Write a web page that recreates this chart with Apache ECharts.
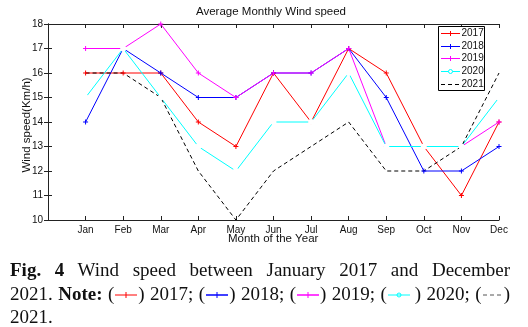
<!DOCTYPE html>
<html>
<head>
<meta charset="utf-8">
<script src="https://cdn.jsdelivr.net/npm/echarts@6/dist/echarts.min.js"></script>
<style>
  html, body { margin: 0; padding: 0; background: #fff; }
  #chart { position: absolute; left: 0; top: 0; width: 528px; height: 327px; }
  #caption { position: absolute; left: 10px; top: 258px; width: 500px;
    font-family: "Liberation Serif", serif; font-size: 19px; line-height: 23.5px; color: #111; }
  #caption .ln { text-align: justify; text-align-last: justify; white-space: nowrap; }
  #caption .last { text-align: left; text-align-last: left; }
  #caption svg { vertical-align: middle; }
</style>
</head>
<body>
<div id="chart"></div>
<div id="caption">
  <div class="ln"><b>Fig. 4</b> Wind speed between January 2017 and December</div>
  <div class="ln">2021. <b>Note:</b> (<svg width="24" height="10"><line x1="1" y1="5" x2="23" y2="5" stroke="#f00" stroke-width="1"/><line x1="12" y1="2" x2="12" y2="8" stroke="#f00"/></svg>) 2017; (<svg width="24" height="10"><line x1="1" y1="5" x2="23" y2="5" stroke="#00f" stroke-width="1.5"/><line x1="12" y1="2" x2="12" y2="8" stroke="#00f"/></svg>) 2018; (<svg width="24" height="10"><line x1="1" y1="5" x2="23" y2="5" stroke="#f0f" stroke-width="1.5"/><line x1="12" y1="2" x2="12" y2="8" stroke="#f0f"/></svg>) 2019; (<svg width="28" height="10"><line x1="1" y1="5" x2="23" y2="5" stroke="#0ff" stroke-width="1"/><circle cx="12" cy="5" r="2" fill="none" stroke="#0ff"/></svg>) 2020; (<svg width="22" height="10"><line x1="1" y1="5" x2="21" y2="5" stroke="#555" stroke-width="1" stroke-dasharray="4 3"/></svg>)</div>
  <div class="ln last">2021.</div>
</div>
<script>
// Month labels for positions 1..12 on the x axis
const months = ['Jan', 'Feb', 'Mar', 'Apr', 'May', 'Jun', 'Jul', 'Aug', 'Sep', 'Oct', 'Nov', 'Dec'];

// Average monthly wind speed (Km/h) per year
const y2017 = [16, 16, 16, 14, 13, 16, 14, 17, 16, 13, 11, 14];
const y2018 = [14, 17, 16, 15, 15, 16, 16, 17, 15, 12, 12, 13];
const y2019 = [17, 17, 18, 16, 15, 16, 16, 17, 13, 13, 13, 14];
const y2020 = [15, 17, 15, 13, 12, 14, 14, 16, 13, 13, 13, 15];
const y2021 = [16, 16, 15, 12, 10, 12, 13, 14, 12, 12, 13, 16];

const yTicks = [10, 11, 12, 13, 14, 15, 16, 17, 18];
const names = ['2017', '2018', '2019', '2020', '2021'];

const plusSymbol = 'path://M5,0 L5,10 M0,5 L10,5';
const font = '"Liberation Sans", Arial, sans-serif';

const styles = {
  '2017': { color: '#ff0000', symbol: plusSymbol, size: 5, dash: null },
  '2018': { color: '#0000ff', symbol: plusSymbol, size: 5, dash: null },
  '2019': { color: '#ff00ff', symbol: plusSymbol, size: 5, dash: null },
  '2020': { color: '#00ffff', symbol: 'emptyCircle', size: 4, dash: null },
  '2021': { color: '#000000', symbol: 'none', size: 0, dash: [4, 3] }
};

function pairs(vals) {
  return vals.map((v, i) => [i + 1, v]);
}

function lineSeries(name, vals) {
  const s = styles[name];
  return {
    name: name,
    type: 'line',
    data: pairs(vals),
    symbol: s.symbol,
    symbolSize: s.size,
    showSymbol: s.symbol !== 'none',
    animation: false,
    lineStyle: { color: s.color, width: 1, type: s.dash || 'solid' },
    itemStyle: { color: s.symbol === 'emptyCircle' ? '#fff' : s.color, borderColor: s.color, borderWidth: 1 },
    emphasis: { disabled: true }
  };
}

// Boxed legend in the upper-right corner of the plot: sample line, marker, year
function legendGraphics() {
  const box = { x: 438.5, y: 26.5, w: 46, h: 64 };
  const rowH = 12.7, first = 33;
  const out = [{
    type: 'rect', shape: { x: box.x, y: box.y, width: box.w, height: box.h },
    style: { fill: '#fff', stroke: '#000', lineWidth: 1 }, z: 10
  }];
  names.forEach((n, i) => {
    const s = styles[n];
    const cy = Math.round(first + i * rowH) + 0.5;
    out.push({
      type: 'line', shape: { x1: 441, y1: cy, x2: 460, y2: cy },
      style: { stroke: s.color, lineWidth: 1, lineDash: s.dash || null }, z: 11
    });
    if (s.symbol === plusSymbol) {
      out.push({ type: 'line', shape: { x1: 450.5, y1: cy - 2.5, x2: 450.5, y2: cy + 2.5 }, style: { stroke: s.color, lineWidth: 1 }, z: 11 });
    } else if (s.symbol === 'emptyCircle') {
      out.push({ type: 'circle', shape: { cx: 450.5, cy: cy, r: 2 }, style: { fill: '#fff', stroke: s.color, lineWidth: 1 }, z: 11 });
    }
    out.push({
      type: 'text', x: 461.5, y: cy,
      style: { text: n, font: '10px ' + font, fill: '#111', verticalAlign: 'middle' }, z: 11
    });
  });
  return out;
}

const chart = echarts.init(document.getElementById('chart'), null, { renderer: 'canvas' });

const axisLine = { show: true, lineStyle: { color: '#222', width: 1 } };
const tick = { show: true, inside: true, length: 4, lineStyle: { color: '#222' } };

chart.setOption({
  backgroundColor: '#fff',
  animation: false,
  textStyle: { fontFamily: font },
  grid: { left: 48, top: 24, right: 29, bottom: 107, show: false },
  graphic: [
    { type: 'text', left: 272 - 76, top: 6, style: { text: 'Average Monthly Wind speed', font: '11.5px ' + font, fill: '#111' } },
    { type: 'text', left: 228, top: 233, style: { text: 'Month of the Year', font: '11.5px ' + font, fill: '#111' } },
    { type: 'text', x: 27, y: 125, rotation: Math.PI / 2, style: { text: 'Wind speed(Km/h)', font: '11.5px ' + font, fill: '#111', align: 'center', verticalAlign: 'middle' } }
  ].concat(legendGraphics()),
  xAxis: [
    {
      type: 'value', min: 0, max: 12, interval: 1,
      axisLine: axisLine, axisTick: tick, splitLine: { show: false },
      axisLabel: {
        fontSize: 10, color: '#111', margin: 5,
        formatter: v => (v >= 1 && v <= 12 ? months[v - 1] : '')
      }
    },
    {
      type: 'value', min: 0, max: 12, interval: 1, position: 'top',
      axisLine: axisLine, axisTick: tick, splitLine: { show: false }, axisLabel: { show: false }
    }
  ],
  yAxis: [
    {
      type: 'value', min: yTicks[0], max: yTicks[yTicks.length - 1], interval: 1,
      axisLine: axisLine, axisTick: tick, splitLine: { show: false },
      axisLabel: { fontSize: 10, color: '#111', margin: 5 }
    },
    {
      type: 'value', min: yTicks[0], max: yTicks[yTicks.length - 1], interval: 1, position: 'right',
      axisLine: axisLine, axisTick: tick, splitLine: { show: false }, axisLabel: { show: false }
    }
  ],
  series: [
    lineSeries('2017', y2017),
    lineSeries('2018', y2018),
    lineSeries('2019', y2019),
    lineSeries('2020', y2020),
    lineSeries('2021', y2021)
  ]
});
</script>
</body>
</html>
